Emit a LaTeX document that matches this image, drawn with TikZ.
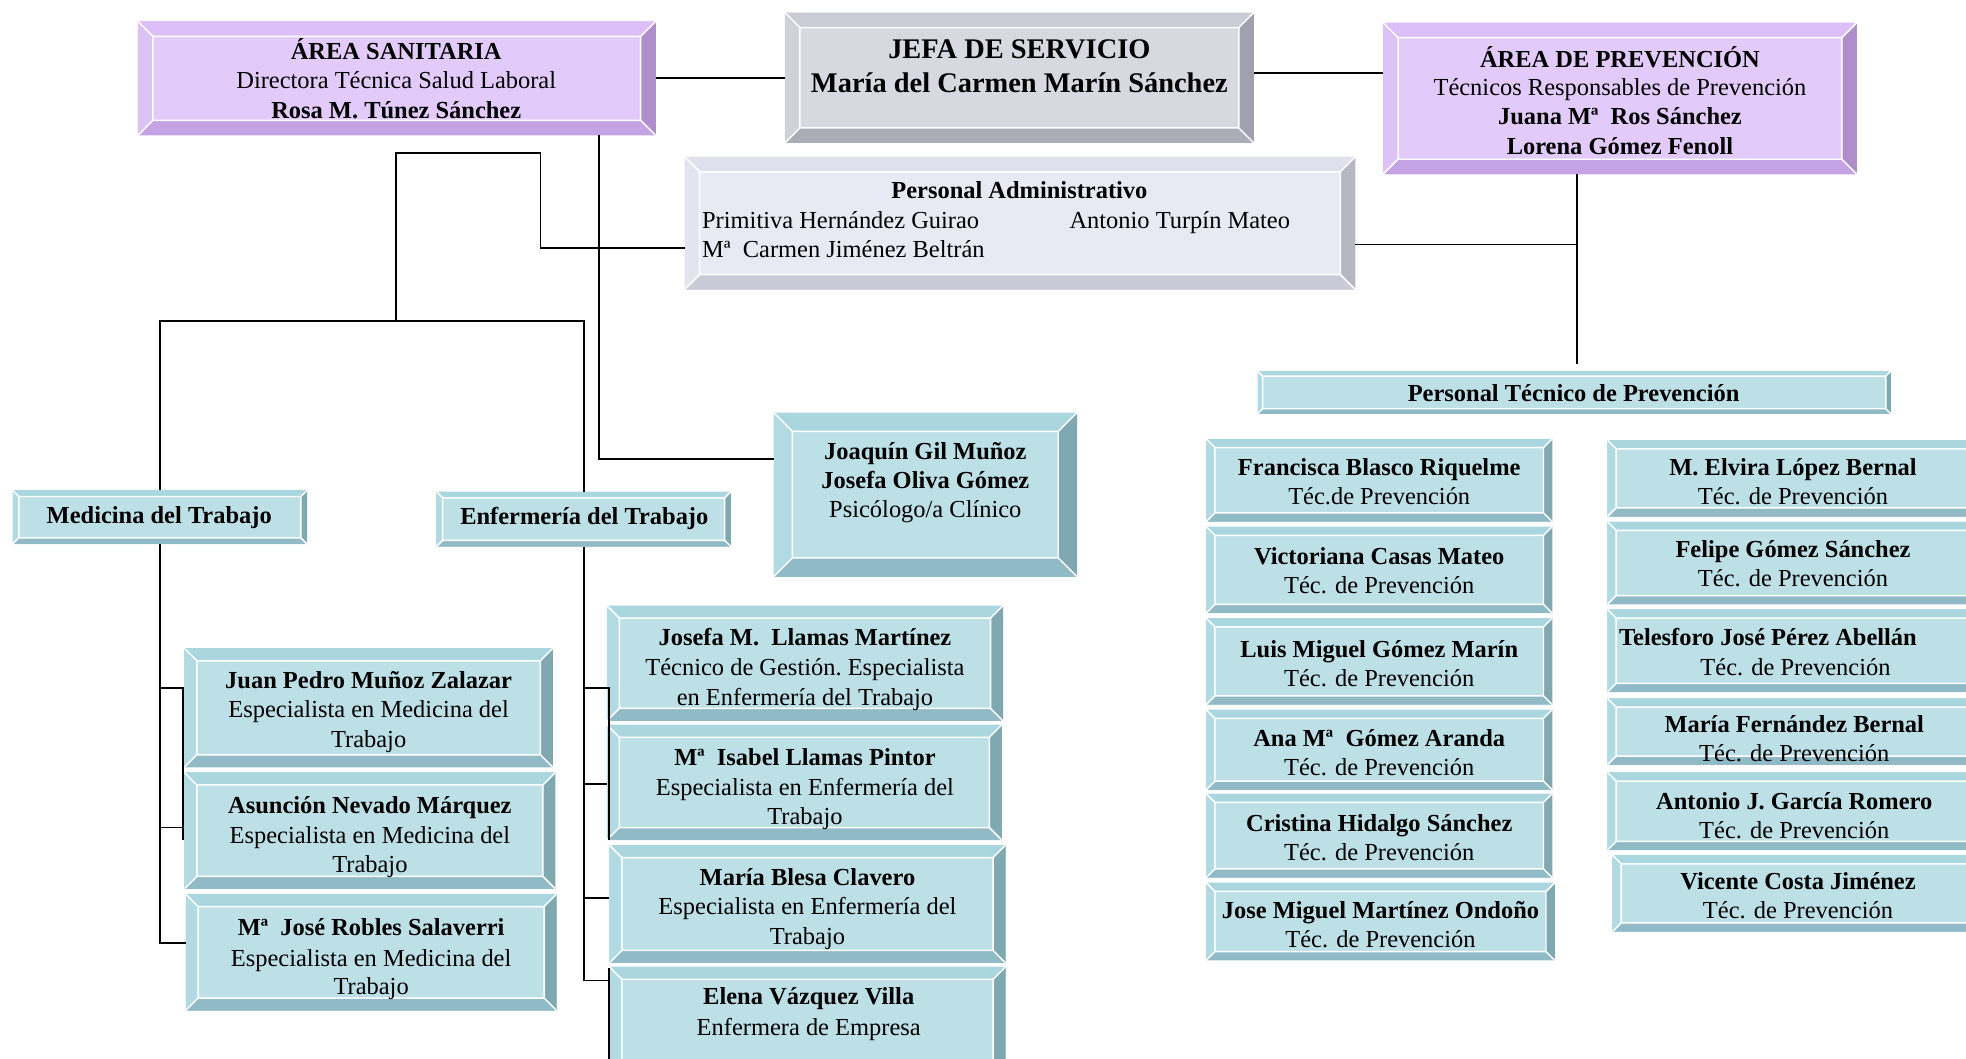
\documentclass[tikz,border=0pt]{standalone}
\usepackage{fontspec}
\setmainfont{Liberation Serif}
\definecolor{tealin}{HTML}{BDDFE6}
\definecolor{tealtop}{HTML}{A9D6DF}
\definecolor{tealleft}{HTML}{B2DAE2}
\definecolor{tealbot}{HTML}{8FBAC6}
\definecolor{tealright}{HTML}{80A8B1}
\definecolor{purin}{HTML}{E2CBFA}
\definecolor{purtop}{HTML}{DCBEF9}
\definecolor{purleft}{HTML}{DBC3F6}
\definecolor{purbot}{HTML}{C4A3E4}
\definecolor{purright}{HTML}{AE8FCC}
\definecolor{grayin}{HTML}{D8D8E1}
\definecolor{graytop}{HTML}{CBCBD5}
\definecolor{grayleft}{HTML}{D1D1DA}
\definecolor{graybot}{HTML}{ACACB7}
\definecolor{grayright}{HTML}{A0A1AC}
\definecolor{admin}{HTML}{E9E9F4}
\definecolor{admtop}{HTML}{E1E1ED}
\definecolor{admleft}{HTML}{E4E4EF}
\definecolor{admbot}{HTML}{CACAD6}
\definecolor{admright}{HTML}{B7B7C3}
\newcommand\Fn{\fontsize{11.7pt}{14pt}\selectfont}
\newcommand\Fb{\fontsize{11.7pt}{14pt}\selectfont\bfseries}
\newcommand\Fj{\fontsize{13.6pt}{16pt}\selectfont\bfseries}
\tikzset{
  bw/.store in=\bvw, bw=6pt,
  bev/.style={rectangle, inner sep=0pt, outer sep=0pt, fill=#1in, path picture={
    \coordinate (pNW) at (path picture bounding box.north west);
    \coordinate (pNE) at (path picture bounding box.north east);
    \coordinate (pSW) at (path picture bounding box.south west);
    \coordinate (pSE) at (path picture bounding box.south east);
    \coordinate (qNW) at ([xshift=\bvw,yshift=-\bvw]pNW);
    \coordinate (qNE) at ([xshift=-\bvw,yshift=-\bvw]pNE);
    \coordinate (qSW) at ([xshift=\bvw,yshift=\bvw]pSW);
    \coordinate (qSE) at ([xshift=-\bvw,yshift=\bvw]pSE);
    \fill[#1top] (pNW) -- (pNE) -- (qNE) -- (qNW) -- cycle;
    \fill[#1left] (pNW) -- (qNW) -- (qSW) -- (pSW) -- cycle;
    \fill[#1bot] (pSW) -- (qSW) -- (qSE) -- (pSE) -- cycle;
    \fill[#1right] (pNE) -- (pSE) -- (qSE) -- (qNE) -- cycle;
    \draw[white, line width=0.7pt] (qNW) rectangle (qSE)
      (pNW) -- (qNW) (pNE) -- (qNE) (pSW) -- (qSW) (pSE) -- (qSE);
  }},
  txt/.style={anchor=base, inner sep=0pt, outer sep=0pt, yshift=-0.9pt},
  wire/.style={draw=black, line width=0.85pt},
}
\newcommand\Bx[7]{\node[bev=#6, bw=#7*0.6pt, minimum width={(#4-#2)*0.6pt}, minimum height={(#5-#3)*0.6pt}] (#1) at ({(#2+#4)/2},{(#3+#5)/2}) {};}
\newcommand\Tl[5]{\node[txt, font=#4] (#1) at (#2,#3) {#5};}
\begin{document}
\begin{tikzpicture}[x=0.6pt,y=-0.6pt]
\useasboundingbox (0,0) rectangle (1568,844);
\clip (0,0) rectangle (1568,844);
% boxes
\Bx{asan}{110}{17}{523}{108}{pur}{12}
\Bx{jefa}{626}{10}{1000}{114}{gray}{12}
\Bx{prev}{1103}{18}{1481}{139}{pur}{12}
\Bx{adm}{546}{125}{1081}{231}{adm}{12}
\Bx{ptec}{1003}{296}{1508}{330}{teal}{4}
\Bx{joaq}{617}{329}{859}{460}{teal}{15}
\Bx{med}{10}{391}{245}{434}{teal}{5}
\Bx{enf}{348}{392}{583}{436}{teal}{5}
\Bx{mc1}{147}{517}{441}{612}{teal}{10}
\Bx{mc2}{147}{616}{443}{709}{teal}{10}
\Bx{mc3}{148}{713}{444}{806}{teal}{10}
\Bx{ec1}{484}{483}{800}{575}{teal}{10}
\Bx{ec2}{484}{578}{799}{670}{teal}{10}
\Bx{ec3}{486}{674}{802}{768}{teal}{10}
\Bx{ec4}{486}{771}{802}{860}{teal}{10}
\Bx{p1}{962}{350}{1238}{416}{teal}{7}
\Bx{p2}{962}{420}{1238}{489}{teal}{7}
\Bx{p3}{962}{493}{1238}{562}{teal}{7}
\Bx{p4}{962}{566}{1238}{630}{teal}{7}
\Bx{p5}{962}{633}{1238}{700}{teal}{7}
\Bx{p6}{962}{704}{1240}{766}{teal}{7}
\Bx{q1}{1282}{351}{1600}{412}{teal}{7}
\Bx{q2}{1282}{416}{1600}{482}{teal}{7}
\Bx{q3}{1282}{486}{1600}{552}{teal}{7}
\Bx{q4}{1282}{557}{1600}{610}{teal}{7}
\Bx{q5}{1282}{616}{1600}{678}{teal}{7}
\Bx{q6}{1286}{682}{1600}{743}{teal}{7}
% connectors
\draw[wire] (asan.east) -- (asan.east -| jefa.west);
\draw[wire] (jefa.east |- 0,58) -- (prev.west |- 0,58);
\draw[wire] (asan.south -| 478,0) -- (478,366) -- (joaq.west |- 0,366);
\draw[wire] (med.north) -- (med.north |- 0,256) -- (enf.north |- 0,256) -- (enf.north);
\draw[wire] (316,256) -- (316,122) -- (431,122) -- (431,198) -- (adm.west |- 0,198);
\draw[wire] (adm.east |- 0,195) -- (1258,195);
\draw[wire] (prev.south -| 1258,0) -- (1258,290);
\draw[wire] (med.south) -- (med.south |- 0,752) -- (mc3.west |- 0,752);
\draw[wire] (med.south |- 0,549) -- (146,549) -- (146,670);
\draw[wire] (med.south |- 0,660) -- (mc2.west |- 0,660);
\draw[wire] (enf.south) -- (enf.south |- 0,782) -- (ec4.west |- 0,782);
\draw[wire] (enf.south |- 0,549) -- (486,549) -- (486,670);
\draw[wire] (enf.south |- 0,625) -- (ec2.west |- 0,625);
\draw[wire] (enf.south |- 0,716) -- (ec3.west |- 0,716);
\draw[wire] (486,772) -- (486,850);
% texts
\Tl{asan1}{316}{46}{\Fb}{ÁREA SANITARIA}
\Tl{asan2}{316}{69}{\Fn}{Directora Técnica Salud Laboral}
\Tl{asan3}{316}{93}{\Fb}{Rosa M. Túnez Sánchez}
\Tl{jefa1}{813}{45}{\Fj}{JEFA DE SERVICIO}
\Tl{jefa2}{813}{72}{\Fj}{María del Carmen Marín Sánchez}
\Tl{prev1}{1292}{52}{\Fb}{ÁREA DE PREVENCIÓN}
\Tl{prev2}{1292}{75}{\Fn}{Técnicos Responsables de Prevención}
\Tl{prev3}{1292}{98}{\Fb}{Juana Mª\ \ Ros Sánchez}
\Tl{prev4}{1292}{122}{\Fb}{Lorena Gómez Fenoll}
\Tl{adm1}{813}{157}{\Fb}{Personal Administrativo}
\node[txt, anchor=base west, font=\Fn] (adm2) at (560,181) {Primitiva Hernández Guirao};
\node[txt, anchor=base west, font=\Fn] (adm3) at (853,181) {Antonio Turpín Mateo};
\node[txt, anchor=base west, font=\Fn] (adm4) at (560,204) {Mª\ \ Carmen Jiménez Beltrán};
\Tl{ptec1}{1255}{319}{\Fb}{Personal Técnico de Prevención}
\Tl{joaq1}{738}{365}{\Fb}{Joaquín Gil Muñoz}
\Tl{joaq2}{738}{388}{\Fb}{Josefa Oliva Gómez}
\Tl{joaq3}{738}{411}{\Fn}{Psicólogo/a Clínico}
\Tl{med1}{127}{416}{\Fb}{Medicina del Trabajo}
\Tl{enf1}{466}{417}{\Fb}{Enfermería del Trabajo}
\Tl{mc1a}{294}{548}{\Fb}{Juan Pedro Muñoz Zalazar}
\Tl{mc1b}{294}{571}{\Fn}{Especialista en Medicina del}
\Tl{mc1c}{294}{595}{\Fn}{Trabajo}
\Tl{mc2a}{295}{647}{\Fb}{Asunción Nevado Márquez}
\Tl{mc2b}{295}{671}{\Fn}{Especialista en Medicina del}
\Tl{mc2c}{295}{694}{\Fn}{Trabajo}
\Tl{mc3a}{296}{745}{\Fb}{Mª\ \ José Robles Salaverri}
\Tl{mc3b}{296}{769}{\Fn}{Especialista en Medicina del}
\Tl{mc3c}{296}{792}{\Fn}{Trabajo}
\Tl{ec1a}{642}{513}{\Fb}{Josefa M.\ \ Llamas Martínez}
\Tl{ec1b}{642}{537}{\Fn}{Técnico de Gestión.\ Especialista}
\Tl{ec1c}{642}{561}{\Fn}{en Enfermería del Trabajo}
\Tl{ec2a}{642}{609}{\Fb}{Mª\ \ Isabel Llamas Pintor}
\Tl{ec2b}{642}{633}{\Fn}{Especialista en Enfermería del}
\Tl{ec2c}{642}{656}{\Fn}{Trabajo}
\Tl{ec3a}{644}{705}{\Fb}{María Blesa Clavero}
\Tl{ec3b}{644}{728}{\Fn}{Especialista en Enfermería del}
\Tl{ec3c}{644}{752}{\Fn}{Trabajo}
\Tl{ec4a}{645}{800}{\Fb}{Elena Vázquez Villa}
\Tl{ec4b}{645}{824}{\Fn}{Enfermera de Empresa}
\Tl{p1a}{1100}{378}{\Fb}{Francisca Blasco Riquelme}
\Tl{p1b}{1100}{401}{\Fn}{Téc.de Prevención}
\Tl{p2a}{1100}{449}{\Fb}{Victoriana Casas Mateo}
\Tl{p2b}{1100}{472}{\Fn}{Téc. de Prevención}
\Tl{p3a}{1100}{523}{\Fb}{Luis Miguel Gómez Marín}
\Tl{p3b}{1100}{546}{\Fn}{Téc. de Prevención}
\Tl{p4a}{1100}{594}{\Fb}{Ana Mª\ \ Gómez Aranda}
\Tl{p4b}{1100}{617}{\Fn}{Téc. de Prevención}
\Tl{p5a}{1100}{662}{\Fb}{Cristina Hidalgo Sánchez}
\Tl{p5b}{1100}{685}{\Fn}{Téc. de Prevención}
\Tl{p6a}{1101}{731}{\Fb}{Jose Miguel Martínez Ondoño}
\Tl{p6b}{1101}{754}{\Fn}{Téc. de Prevención}
\Tl{q1a}{1430}{378}{\Fb}{M. Elvira López Bernal}
\Tl{q1b}{1430}{401}{\Fn}{Téc. de Prevención}
\Tl{q2a}{1430}{443}{\Fb}{Felipe Gómez Sánchez}
\Tl{q2b}{1430}{466}{\Fn}{Téc. de Prevención}
\Tl{q3a}{1410}{513}{\Fb}{Telesforo José Pérez Abellán}
\Tl{q3b}{1432}{537}{\Fn}{Téc. de Prevención}
\Tl{q4a}{1431}{583}{\Fb}{María Fernández Bernal}
\Tl{q4b}{1431}{606}{\Fn}{Téc. de Prevención}
\Tl{q5a}{1431}{644}{\Fb}{Antonio J. García Romero}
\Tl{q5b}{1431}{667}{\Fn}{Téc. de Prevención}
\Tl{q6a}{1434}{708}{\Fb}{Vicente Costa Jiménez}
\Tl{q6b}{1434}{731}{\Fn}{Téc. de Prevención}
\end{tikzpicture}
\end{document}
